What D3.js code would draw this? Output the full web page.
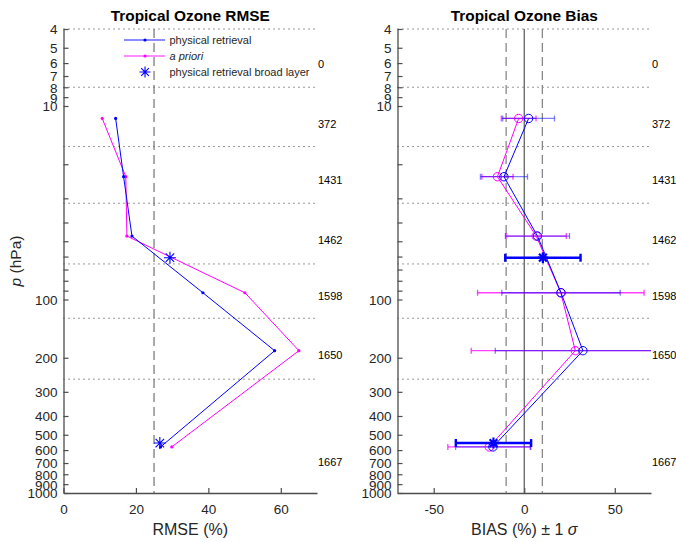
<!DOCTYPE html>
<html>
<head>
<meta charset="utf-8">
<script src="https://cdn.jsdelivr.net/npm/d3@7"></script>
<style>
  body { margin: 0; background: #fff; }
  svg { font-family: "Liberation Sans", Arial, sans-serif; }
</style>
</head>
<body>
<svg id="svg"></svg>
<script>
// layer midpoints (hPa) and the two broad layers
const pressure = [11.6, 23.2, 47.0, 92.3, 183.9, 578];
const broadPressure = [60.8, 552];
// layer boundaries drawn as dotted lines
const boundaries = [4, 8, 16.2, 31.8, 65.5, 125, 258];
// number of matchups per layer, and where each count sits
const counts = ["0", "372", "1431", "1462", "1598", "1650", "1667"];
const countPressure = [6.1, 12.4, 24.3, 49.2, 95.6, 193.6, 689];

const rmseRetrieval = [14.4, 16.6, 18.9, 38.5, 58.3, 26.8];
const rmsePrior = [10.7, 17.2, 17.5, 50.1, 65.0, 29.9];
const rmseBroad = [29.4, 26.6];

const biasRetrieval = [2.4, -11.2, 7.3, 20.3, 32.4, -17.3];
const sdRetrieval = [14.3, 13.0, 17.7, 32.7, 48.4, 20.6];
const biasPrior = [-3.1, -14.8, 6.6, 20.2, 28.2, -19.3];
const sdPrior = [9.6, 8.6, 16.6, 46.0, 57.5, 22.9];
const biasBroad = [10.3, -17.0];
const sdBroad = [20.8, 20.8];

const yTicks = [4, 5, 6, 7, 8, 9, 10, 20, 30, 40, 50, 60, 70, 80, 90,
  100, 200, 300, 400, 500, 600, 700, 800, 900, 1000];
const yLabelled = new Set([4, 5, 6, 7, 8, 9, 10, 100, 200, 300, 400, 500, 600, 700, 800, 900, 1000]);

const width = 676, height = 542;
const blue = "#0000ff", magenta = "#ff00ff";
const axisColor = "#4d4d4d", textColor = "#262626";

const svg = d3.select("#svg")
    .attr("width", width)
    .attr("height", height)
    .attr("viewBox", [0, 0, width, height]);

const y = d3.scaleLog().domain([4, 1000]).range([29, 493]);

function starPath(r) {
    const a = r * 0.7071;
    return `M${-r},0H${r}M0,${-r}V${r}M${-a},${-a}L${a},${a}M${-a},${a}L${a},${-a}`;
}

function panel(left, right, xDomain, xTicks, title, id) {
    const x = d3.scaleLinear().domain(xDomain).range([left, right]);
    const g = svg.append("g");

    g.append("clipPath").attr("id", id)
        .append("rect")
        .attr("x", left).attr("y", y.range()[0] - 10)
        .attr("width", right - left).attr("height", y.range()[1] - y.range()[0] + 10);

    // layer boundaries
    g.append("g")
        .selectAll("line")
        .data(boundaries)
        .join("line")
            .attr("x1", left).attr("x2", right)
            .attr("y1", d => y(d)).attr("y2", d => y(d))
            .attr("stroke", "#333")
            .attr("stroke-width", 1)
            .attr("stroke-dasharray", "1,4");

    // count labels
    g.append("g")
        .attr("font-size", 11)
        .attr("fill", "#000")
        .selectAll("text")
        .data(counts)
        .join("text")
            .attr("x", right + 1)
            .attr("y", (d, i) => y(countPressure[i]))
            .attr("dy", "0.35em")
            .text(d => d);

    const yAxis = g.append("g")
        .attr("transform", `translate(${left},0)`)
        .call(d3.axisLeft(y)
            .tickValues(yTicks)
            .tickSizeInner(-5)
            .tickSizeOuter(0)
            .tickPadding(6)
            .tickFormat(d => yLabelled.has(d) ? d : ""));
    const xAxis = g.append("g")
        .attr("transform", `translate(0,${y.range()[1]})`)
        .call(d3.axisBottom(x)
            .tickValues(xTicks)
            .tickSizeInner(-5)
            .tickSizeOuter(0)
            .tickPadding(11)
            .tickFormat(d => String(d)));
    for (const ax of [yAxis, xAxis]) {
        ax.attr("font-size", 13.5).attr("font-family", null);
        ax.select(".domain").attr("stroke", axisColor).attr("stroke-width", 1.3);
        ax.selectAll(".tick line").attr("stroke", axisColor).attr("stroke-width", 1.2);
        ax.selectAll(".tick text").attr("fill", textColor);
    }
    yAxis.selectAll(".tick text").attr("dy", "0.36em");

    g.append("text")
        .attr("x", (left + right) / 2)
        .attr("y", 20.5)
        .attr("text-anchor", "middle")
        .attr("font-weight", "bold")
        .attr("font-size", 15.4)
        .text(title);

    return { g, x };
}

// ---- RMSE panel
const rmse = panel(63.5, 317, [0, 70], [0, 20, 40, 60], "Tropical Ozone RMSE", "clipL");

rmse.g.append("line")
    .attr("x1", rmse.x(25)).attr("x2", rmse.x(25))
    .attr("y1", y(4)).attr("y2", y(1000))
    .attr("stroke", "#666").attr("stroke-width", 1.1)
    .attr("stroke-dasharray", "9,5");

const lineR = d3.line().x(d => rmse.x(d[0])).y(d => y(d[1]));
for (const [vals, col] of [[rmsePrior, magenta], [rmseRetrieval, blue]]) {
    const pts = vals.map((v, i) => [v, pressure[i]]);
    rmse.g.append("path")
        .attr("d", lineR(pts))
        .attr("fill", "none").attr("stroke", col).attr("stroke-width", 1);
    rmse.g.append("g")
        .selectAll("circle")
        .data(pts)
        .join("circle")
            .attr("cx", d => rmse.x(d[0]))
            .attr("cy", d => y(d[1]))
            .attr("r", 1.6)
            .attr("fill", col);
}
rmse.g.append("g")
    .selectAll("path")
    .data(rmseBroad)
    .join("path")
        .attr("transform", (d, i) => `translate(${rmse.x(d)},${y(broadPressure[i])})`)
        .attr("d", starPath(6))
        .attr("stroke", blue).attr("stroke-width", 1.1).attr("fill", "none");

rmse.g.append("text")
    .attr("x", (63.5 + 317) / 2)
    .attr("y", 535)
    .attr("text-anchor", "middle")
    .attr("font-size", 16)
    .attr("fill", textColor)
    .text("RMSE (%)");

svg.append("text")
    .attr("transform", `translate(21,${(y(4) + y(1000)) / 2}) rotate(-90)`)
    .attr("text-anchor", "middle")
    .attr("font-size", 15.5)
    .attr("fill", textColor)
    .call(t => {
        t.append("tspan").attr("font-style", "italic").text("p");
        t.append("tspan").text(" (hPa)");
    });

// legend
const legend = rmse.g.append("g").attr("font-size", 11).attr("fill", textColor);
const legendRows = [
    { label: "physical retrieval", color: blue, kind: "line" },
    { label: "a priori", color: magenta, kind: "line", italic: true },
    { label: "physical retrieval broad layer", color: blue, kind: "star" },
];
legendRows.forEach((r, i) => {
    const ly = 40 + i * 16;
    if (r.kind === "line") {
        legend.append("line")
            .attr("x1", 124).attr("x2", 165).attr("y1", ly).attr("y2", ly)
            .attr("stroke", r.color).attr("stroke-width", 1.6).attr("stroke-opacity", 0.6);
        legend.append("circle").attr("cx", 145).attr("cy", ly).attr("r", 1.6).attr("fill", r.color);
    } else {
        legend.append("path")
            .attr("transform", `translate(145,${ly})`)
            .attr("d", starPath(5.5))
            .attr("stroke", r.color).attr("stroke-width", 1.1).attr("fill", "none");
    }
    legend.append("text")
        .attr("x", 169.5).attr("y", ly).attr("dy", "0.35em")
        .attr("font-style", r.italic ? "italic" : null)
        .text(r.label);
});

// ---- Bias panel
const bias = panel(397.5, 651, [-70, 70], [-50, 0, 50], "Tropical Ozone Bias", "clipR");

for (const v of [-10, 10]) {
    bias.g.append("line")
        .attr("x1", bias.x(v)).attr("x2", bias.x(v))
        .attr("y1", y(4)).attr("y2", y(1000))
        .attr("stroke", "#888").attr("stroke-width", 1.3)
        .attr("stroke-dasharray", "9,5");
}
bias.g.append("line")
    .attr("x1", bias.x(0)).attr("x2", bias.x(0))
    .attr("y1", y(4)).attr("y2", y(1000))
    .attr("stroke", "#555").attr("stroke-width", 1.2);

const plotArea = bias.g.append("g").attr("clip-path", "url(#clipR)");

function errorBars(vals, sds, ps, col, opts) {
    const grp = plotArea.append("g")
        .attr("stroke", col)
        .attr("stroke-width", opts.width)
        .attr("stroke-opacity", opts.opacity);
    vals.forEach((v, i) => {
        const yy = y(ps[i]);
        const x0 = bias.x(v - sds[i]), x1 = bias.x(v + sds[i]);
        grp.append("line").attr("x1", x0).attr("x2", x1).attr("y1", yy).attr("y2", yy);
        for (const xc of [x0, x1]) {
            grp.append("line").attr("x1", xc).attr("x2", xc)
                .attr("y1", yy - opts.cap).attr("y2", yy + opts.cap);
        }
    });
}

errorBars(biasPrior, sdPrior, pressure, magenta, { width: 1.3, opacity: 0.75, cap: 3 });
errorBars(biasRetrieval, sdRetrieval, pressure, blue, { width: 1.3, opacity: 0.5, cap: 3 });

const lineB = d3.line().x(d => bias.x(d[0])).y(d => y(d[1]));
for (const [vals, col] of [[biasPrior, magenta], [biasRetrieval, blue]]) {
    const pts = vals.map((v, i) => [v, pressure[i]]);
    plotArea.append("path")
        .attr("d", lineB(pts))
        .attr("fill", "none").attr("stroke", col).attr("stroke-width", 1);
    plotArea.append("g")
        .selectAll("circle")
        .data(pts)
        .join("circle")
            .attr("cx", d => bias.x(d[0]))
            .attr("cy", d => y(d[1]))
            .attr("r", 4.2)
            .attr("fill", "none")
            .attr("stroke", col).attr("stroke-width", 1);
}

errorBars(biasBroad, sdBroad, broadPressure, blue, { width: 2.4, opacity: 1, cap: 4 });
plotArea.append("g")
    .selectAll("path")
    .data(biasBroad)
    .join("path")
        .attr("transform", (d, i) => `translate(${bias.x(d)},${y(broadPressure[i])})`)
        .attr("d", starPath(5.5))
        .attr("stroke", blue).attr("stroke-width", 2.2).attr("fill", "none");

bias.g.append("text")
    .attr("x", (397.5 + 651) / 2)
    .attr("y", 535)
    .attr("text-anchor", "middle")
    .attr("font-size", 16)
    .attr("fill", textColor)
    .call(t => {
        t.append("tspan").text("BIAS (%) \u00b1 1 ");
        t.append("tspan").attr("font-style", "italic").text("\u03c3");
    });
</script>
</body>
</html>
